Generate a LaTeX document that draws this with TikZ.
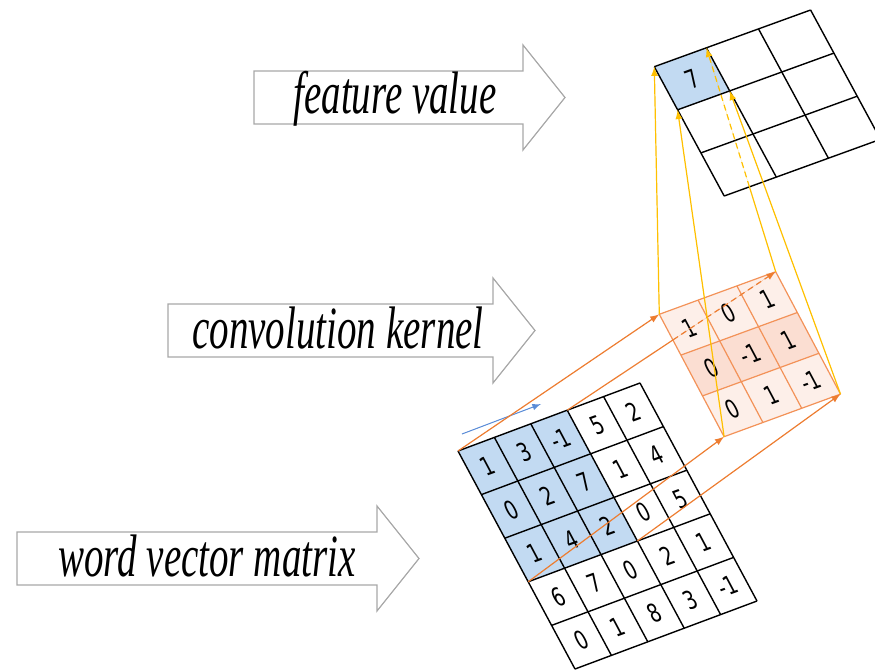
\documentclass[tikz,border=0pt]{standalone}
\usepackage{fontspec}
\setmainfont{Liberation Serif}
\newfontfamily\cellfont{DejaVu Sans}
\usetikzlibrary{arrows, calc}

\definecolor{cellblue}{RGB}{194,218,242}
\definecolor{kernelpale}{RGB}{253,239,233}
\definecolor{kernelmid}{RGB}{251,222,210}
\definecolor{kernelline}{RGB}{243,146,88}
\definecolor{linkorange}{RGB}{237,125,49}
\definecolor{linkyellow}{RGB}{255,192,0}
\definecolor{slideblue}{RGB}{90,140,215}
\definecolor{rimgray}{RGB}{168,168,168}

\begin{document}
\begin{tikzpicture}[x=0.5pt,y=-0.5pt,>=latex,line width=0.6pt]

	\tikzset{arrow rim/.style={draw=rimgray, fill=white, line width=0.6pt},
		label text/.style={font=\fontsize{30}{36}\selectfont\itshape, xscale=0.65},
		cell num/.style={font=\cellfont\fontsize{13}{15}\selectfont,
			rotate=20, xslant=-0.14, xscale=0.7, inner sep=0pt},
		grid line/.style={line width=0.7pt, draw=black},
		kernel line/.style={line width=0.6pt, draw=kernelline},
		orange link/.style={->, draw=linkorange, fill=linkorange},
		yellow link/.style={->, draw=linkyellow, fill=linkyellow},
		hidden/.style={dash pattern=on 3pt off 2pt},
		label arrow/.pic={
			\draw[arrow rim] (0,-26.5) -- (#1,-26.5) -- (#1,-52.5) -- ++(42,52.5)
			-- (#1,52.5) -- (#1,26.5) -- (0,26.5) -- cycle;
		}}

	\useasboundingbox (0,0) rectangle (875,671);

	% hollow arrows with their captions
	\pic at (254,97.5) {label arrow=269};
	\node[label text] (featLabel) at (395,99) {feature value};
	\pic at (168,330.5) {label arrow=325};
	\node[label text] (kernLabel) at (338,328) {convolution kernel};
	\pic at (17,558.5) {label arrow=360};
	\node[label text] (wordLabel) at (207,556) {word vector matrix};

	% feature map
	\begin{scope}[shift={(654.3,66.7)}, x={(26.05pt,9.45pt)}, y={(11.65pt,-21.55pt)}]
		\fill[cellblue] (0,0) -- (1,0) -- (1,1) -- (0,1) -- cycle;
		\foreach \i in {0,...,3} {
			\draw[grid line] (\i,0) -- (\i,3);
			\draw[grid line] (0,\i) -- (3,\i);
		}
		\node[cell num] (f-0-0) at (.5,.5) {7};
		\coordinate (f-tl) at (0,0);
		\coordinate (f-tr) at (1,0);
		\coordinate (f-bl) at (0,1);
		\coordinate (f-br) at (1,1);
	\end{scope}

	% kernel
	\begin{scope}[shift={(659.3,314.3)}, x={(19.4pt,7.1pt)}, y={(10.8pt,-20.4pt)}]
		\fill[kernelpale] (0,0) -- (3,0) -- (3,3) -- (0,3) -- cycle;
		\fill[kernelmid] (0,1) -- (3,1) -- (3,2) -- (0,2) -- cycle;
		\foreach \i in {0,...,3} {
			\draw[kernel line] (\i,0) -- (\i,3);
			\draw[kernel line] (0,\i) -- (3,\i);
		}
		\foreach \row [count=\j from 0] in {{1,0,1},{0,-1,1},{0,1,-1}}
			\foreach \v [count=\i from 0] in \row
				\node[cell num] (k-\j-\i) at (\i+.5,\j+.5) {\v};
		\coordinate (k-tl) at (0,0);
		\coordinate (k-tr) at (3,0);
		\coordinate (k-bl) at (0,3);
		\coordinate (k-br) at (3,3);
	\end{scope}

	% word vectors
	\begin{scope}[shift={(458,451)}, x={(18.2pt,6.8pt)}, y={(11.7pt,-21.8pt)}]
		\fill[cellblue] (0,0) -- (3,0) -- (3,3) -- (0,3) -- cycle;
		\foreach \i in {0,...,5} {
			\draw[grid line] (\i,0) -- (\i,5);
			\draw[grid line] (0,\i) -- (5,\i);
		}
		\foreach \row [count=\j from 0] in
			{{1,3,-1,5,2},{0,2,7,1,4},{1,4,2,0,5},{6,7,0,2,1},{0,1,8,3,-1}}
			\foreach \v [count=\i from 0] in \row
				\node[cell num] (w-\j-\i) at (\i+.5,\j+.5) {\v};
		\coordinate (m-tl) at (0,0);
		\coordinate (m-tr) at (3,0);
		\coordinate (m-bl) at (0,3);
		\coordinate (m-br) at (3,3);
	\end{scope}

	% sliding direction
	\coordinate (slide-a) at (462,434);
	\coordinate (slide-b) at (541,404);
	\draw[->, draw=slideblue, fill=slideblue, line width=0.5pt] (slide-a) -- (slide-b);

	% window -> kernel
	\coordinate (k-cut) at ($(m-tr)!0.507!(k-tr)$);
	\draw[orange link] (m-tl) -- (k-tl);
	\draw[linkorange] (m-tr) -- (k-cut);
	\draw[orange link, hidden] (k-cut) -- (k-tr);
	\draw[orange link] (m-bl) -- (k-bl);
	\draw[orange link] (m-br) -- (k-br);

	% kernel -> feature value
	\coordinate (f-cut) at ($(k-tr)!0.379!(f-tr)$);
	\draw[yellow link] (k-tl) -- (f-tl);
	\draw[yellow link] (k-bl) -- (f-bl);
	\draw[yellow link] (k-br) -- (f-br);
	\draw[linkyellow] (k-tr) -- (f-cut);
	\draw[yellow link, hidden] (f-cut) -- (f-tr);

\end{tikzpicture}
\end{document}
